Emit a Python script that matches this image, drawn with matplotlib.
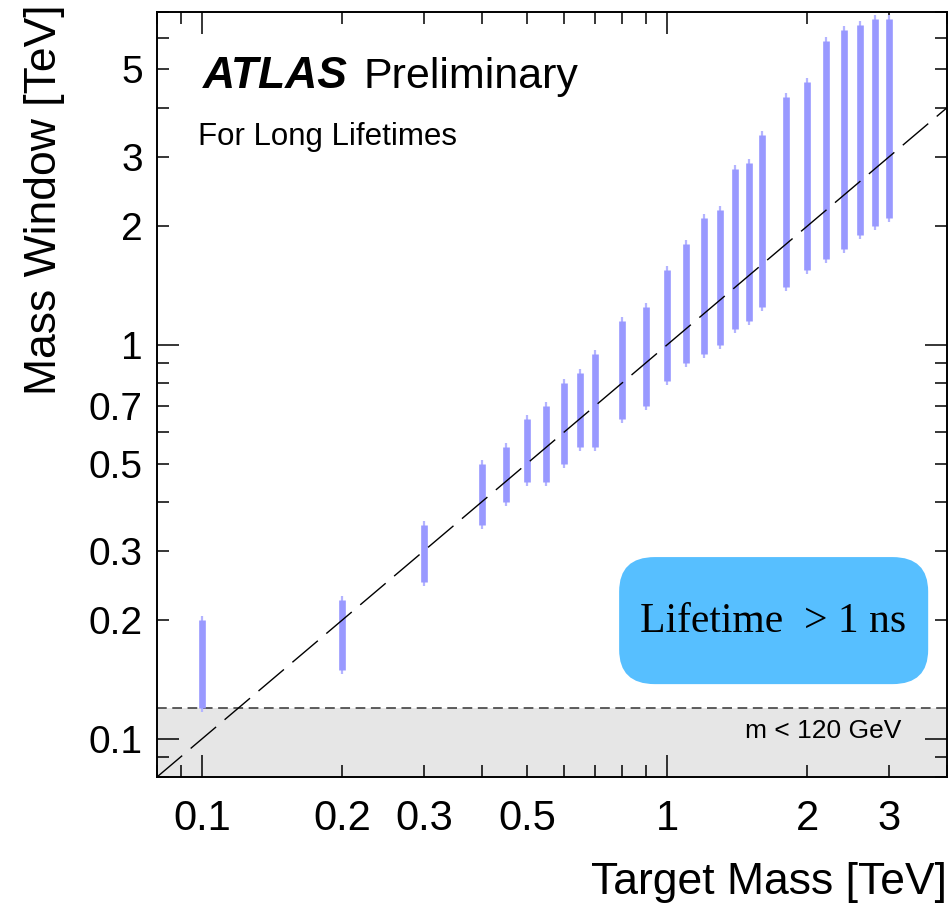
import numpy as np
import matplotlib
matplotlib.use("Agg")
import matplotlib.pyplot as plt
from matplotlib.ticker import LogLocator, FuncFormatter
from matplotlib.patches import FancyBboxPatch

plt.rcParams['font.family'] = ['Liberation Sans', 'DejaVu Sans']
plt.rcParams['lines.scale_dashes'] = False

# target masses [TeV] and the mass window (low / high edge) for each
target_mass = [0.1, 0.2, 0.3, 0.4, 0.45, 0.5, 0.55, 0.6, 0.65, 0.7, 0.8, 0.9,
               1.0, 1.1, 1.2, 1.3, 1.4, 1.5, 1.6, 1.8, 2.0, 2.2, 2.4, 2.6, 2.8, 3.0]
window_lo = [0.12, 0.15, 0.25, 0.35, 0.40, 0.45, 0.45, 0.50, 0.55, 0.55, 0.65, 0.70,
             0.81, 0.90, 0.95, 1.0, 1.1, 1.15, 1.25, 1.4, 1.55, 1.65, 1.75, 1.9, 2.0, 2.1]
window_hi = [0.20, 0.225, 0.35, 0.50, 0.55, 0.65, 0.70, 0.80, 0.85, 0.95, 1.15, 1.25,
             1.55, 1.8, 2.1, 2.2, 2.8, 2.9, 3.4, 4.25, 4.65, 5.9, 6.3, 6.5, 6.7, 6.7]

x_ticklabels = [0.1, 0.2, 0.3, 0.5, 1, 2, 3]
y_ticklabels = [0.1, 0.2, 0.3, 0.5, 0.7, 1, 2, 3, 5]
mass_cut = 0.12   # m < 120 GeV
xlim = (0.08, 4.0)
ylim = (0.08, 7.0)

fig = plt.figure(figsize=(9.5, 9.09), dpi=100)
ax = fig.add_axes([0.165, 0.145, 0.832, 0.842])
ax.set_xscale('log')
ax.set_yscale('log')
ax.set_xlim(*xlim)
ax.set_ylim(*ylim)

# excluded low-mass band
ax.axhspan(ylim[0], mass_cut, color='#e6e6e6', lw=0, zorder=0)
ax.axhline(mass_cut, color='#333333', lw=1.1, dashes=(7, 4), zorder=1)

# mass windows
ax.plot(target_mass, window_lo, ls='none', marker='|', ms=6, mew=1.6,
        color='#b4b4ff', zorder=2)
ax.plot(target_mass, window_hi, ls='none', marker='|', ms=6, mew=1.6,
        color='#b4b4ff', zorder=2)
ax.vlines(target_mass, window_lo, window_hi, color='#9999ff', lw=4.8, zorder=3)

# y = x
diag = np.array(xlim)
ax.plot(diag, diag, color='black', lw=1.0, dashes=(24, 8), zorder=4)

for s in ax.spines.values():
    s.set_linewidth(1.4)

ax.xaxis.set_major_locator(LogLocator(base=10))
ax.yaxis.set_major_locator(LogLocator(base=10))
ax.xaxis.set_minor_locator(LogLocator(base=10, subs=np.arange(2, 10)))
ax.yaxis.set_minor_locator(LogLocator(base=10, subs=np.arange(2, 10)))


def label_only(keep):
    def f(v, pos):
        for k in keep:
            if abs(v - k) < 1e-6 * k:
                return '%g' % k
        return ''
    return FuncFormatter(f)


for axis, keep in ((ax.xaxis, x_ticklabels), (ax.yaxis, y_ticklabels)):
    axis.set_major_formatter(label_only(keep))
    axis.set_minor_formatter(label_only(keep))

ax.tick_params(which='both', direction='in', top=True, right=True, width=1.1)
ax.tick_params(which='major', length=16)
ax.tick_params(which='minor', length=8.5)
ax.tick_params(axis='x', which='both', labelsize=30, pad=16)
ax.tick_params(axis='y', which='both', labelsize=28, pad=10)

ax.set_xlabel('Target Mass [TeV]', fontsize=32, ha='right', va='center')
ax.xaxis.set_label_coords(1.0, -0.137)
ax.set_ylabel('Mass Window [TeV]', fontsize=32)
ax.yaxis.label.set(ha='right', va='center', rotation_mode='anchor')
ax.yaxis.set_label_coords(-0.142, 1.009)

ax.text(0.058, 0.9007, 'ATLAS', transform=ax.transAxes, fontsize=32,
        fontweight='bold', fontstyle='italic', va='baseline')
ax.text(0.262, 0.9007, 'Preliminary', transform=ax.transAxes, fontsize=31,
        va='baseline')
ax.text(0.052, 0.826, 'For Long Lifetimes', transform=ax.transAxes,
        fontsize=22.5, va='baseline')
ax.text(0.942, 0.051, 'm < 120 GeV', transform=ax.transAxes, fontsize=19,
        ha='right', va='baseline')

box = FancyBboxPatch((0.585, 0.1216), 0.391, 0.166,
                     boxstyle='round,pad=0,rounding_size=0.045',
                     transform=ax.transAxes, fc='#57bfff', ec='none', zorder=5)
ax.add_patch(box)
ax.text(0.780, 0.2026, 'Lifetime  > 1 ns', transform=ax.transAxes,
        family=['Liberation Serif', 'DejaVu Serif'], fontsize=30,
        ha='center', va='center', zorder=6)

fig.savefig('out.png', dpi=100)
